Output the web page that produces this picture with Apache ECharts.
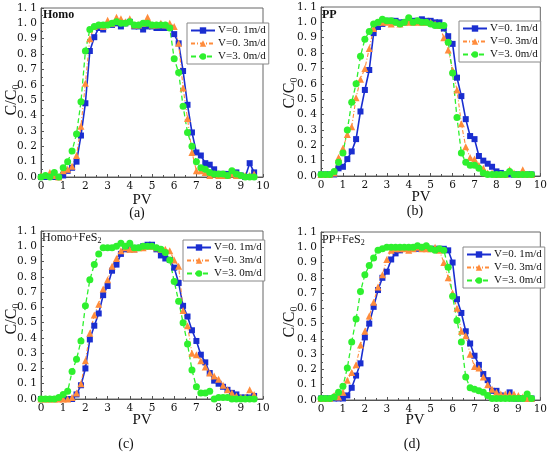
<!DOCTYPE html>
<html>
<head>
<meta charset="utf-8">
<script src="https://cdn.jsdelivr.net/npm/echarts@6/dist/echarts.min.js"></script>
<style>
  html, body { margin: 0; padding: 0; background: #fff; }
  #main { width: 550px; height: 452px; }
</style>
</head>
<body>
<div id="main"></div>
<script type="text/javascript">
var pv = [0,0.2,0.4,0.6,0.8,1,1.2,1.4,1.6,1.8,2,2.2,2.4,2.6,2.8,3,3.2,3.4,3.6,3.8,4,4.2,4.4,4.6,4.8,
          5,5.2,5.4,5.6,5.8,6,6.2,6.4,6.6,6.8,7,7.2,7.4,7.6,7.8,8,8.2,8.4,8.6,8.8,9,9.2,9.4,9.6];

var names = ['V=0. 1m/d', 'V=0. 3m/d', 'V=3. 0m/d'];
var panelTitles = ['Homo', 'PP', 'Homo+FeS', 'PP+FeS'];
var captions = ['(a)', '(b)', '(c)', '(d)'];

// (a) Homo
var homo01 = [0,0,0,0,0, 0.01,0.04,0.06,0.10,0.27, 0.48,0.82,0.91,0.97,0.96, 0.99,0.99,1.00,0.98,1.00,
              1.01,0.98,0.98,0.96,0.98, 0.98,0.97,0.97,0.97,0.97, 0.93,0.87,0.69,0.47,0.29,
              0.16,0.14,0.09,0.08,0.05, 0.02,0.02,0.02,0.02,0.03, 0.01,0.00,0.09,0.03];
var homo03 = [0.01,0.01,0.03,0.01,0.00, 0.04,0.05,0.07,0.14,0.33, 0.61,0.90,0.98,0.99,0.98, 1.02,1.00,1.04,1.03,1.01,
              1.03,0.99,0.99,1.00,1.04, 0.99,0.99,1.00,0.99,1.00, 0.98,0.87,0.58,0.38,0.16,
              0.04,0.04,0.03,0.01,0.02, 0.01,0.01,0.01,0.02,0.01, 0.01,0.01,0.01,0.02];
var homo30 = [0.00,0.01,0.00,0.03,0.00, 0.06,0.10,0.17,0.28,0.49, 0.82,0.96,0.98,0.99,0.99, 0.99,1.00,1.01,1.00,1.00,
              1.01,0.99,0.99,1.00,1.00, 0.99,0.99,0.99,0.99,0.97, 0.77,0.68,0.46,0.29,0.20,
              0.10,0.06,0.05,0.03,0.02, 0.02,0.02,0.01,0.04,0.02, 0.01,0.00,0.00,0.00];

// (b) PP
var pp01 = [0.01,0.01,0.01,0.01,0.05, 0.06,0.11,0.16,0.24,0.42, 0.56,0.69,0.93,0.97,0.99, 1.01,1.01,1.01,1.00,1.00,
            1.01,1.01,1.01,1.02,1.01, 1.01,1.00,1.00,0.96,0.91, 0.86,0.64,0.52,0.37,0.26,
            0.24,0.13,0.10,0.08,0.06, 0.03,0.02,0.01,0.01,0.01, 0.01,0.01,0.01,0.01];
var pp03 = [0.01,0.01,0.01,0.02,0.12, 0.18,0.27,0.32,0.51,0.63, 0.70,0.83,0.96,1.00,1.00, 1.00,0.99,1.00,0.99,1.00,
            1.00,1.00,1.00,1.00,1.00, 1.00,0.99,0.98,0.90,0.82, 0.69,0.56,0.34,0.19,0.12,
            0.11,0.07,0.05,0.02,0.02, 0.01,0.01,0.01,0.04,0.02, 0.01,0.04,0.01,0.01];
var pp30 = [0.01,0.01,0.01,0.03,0.09, 0.15,0.30,0.48,0.60,0.78, 0.89,0.94,0.99,1.00,1.02, 1.01,1.01,1.00,0.99,1.00,
            1.03,1.00,1.01,1.00,1.00, 0.99,0.98,0.98,0.98,0.87, 0.67,0.38,0.15,0.09,0.07,
            0.07,0.05,0.02,0.01,0.01, 0.01,0.01,0.01,0.03,0.01, 0.01,0.01,0.01,0.01];

// (c) Homo+FeS2
var homoFe01 = [0,0,0,0,0, 0,0,0,0.03,0.09, 0.20,0.39,0.48,0.56,0.68, 0.74,0.84,0.88,0.95,0.98,
                0.98,0.98,0.99,1.00,1.01, 1.01,0.98,0.94,0.92,0.91, 0.86,0.76,0.61,0.54,0.45,
                0.38,0.29,0.24,0.17,0.12, 0.10,0.08,0.06,0.04,0.03, 0.01,0.01,0.01,0.02];
var homoFe03 = [0,0,0,0,0, 0,0,0.01,0.04,0.10, 0.25,0.43,0.55,0.62,0.72, 0.78,0.87,0.92,0.97,0.99,
                0.98,0.98,0.99,0.99,1.00, 1.00,0.99,0.98,0.98,0.97, 0.91,0.87,0.58,0.48,0.30,
                0.29,0.25,0.21,0.17,0.15, 0.13,0.09,0.06,0.04,0.02, 0.01,0.01,0.06,0.03];
var homoFe30 = [0,0,0,0,0.01, 0.03,0.05,0.18,0.26,0.38, 0.61,0.78,0.88,0.95,0.99, 0.99,0.99,1.00,1.02,1.00,
                1.02,0.99,0.99,1.00,1.00, 1.00,0.99,0.98,0.96,0.91, 0.77,0.64,0.50,0.36,0.19,
                0.08,0.04,0.04,0.05,0.00, 0.01,0.01,0.01,0.00,0.00, 0.00,0.00,0.00,0.00];

// (d) PP+FeS2
var ppFe01 = [0.01,0.01,0.01,0.01,0.01, 0.01,0.03,0.08,0.16,0.24, 0.41,0.50,0.61,0.72,0.80, 0.84,0.92,0.96,0.98,0.99,
              0.99,0.99,0.99,0.99,0.99, 0.99,0.99,0.99,0.99,0.98, 0.90,0.66,0.57,0.45,0.37,
              0.29,0.23,0.17,0.13,0.06, 0.06,0.03,0.02,0.05,0.01, 0.01,0.01,0.01,0.01];
var ppFe03 = [0.01,0.01,0.01,0.03,0.02, 0.05,0.13,0.18,0.23,0.36, 0.45,0.55,0.64,0.74,0.82, 0.92,0.98,0.99,0.99,0.99,
              0.98,0.99,1.00,0.99,0.99, 0.99,1.00,0.98,0.90,0.80, 0.70,0.60,0.45,0.42,0.30,
              0.22,0.21,0.15,0.10,0.07, 0.05,0.04,0.04,0.04,0.04, 0.03,0.02,0.01,0.01];
var ppFe30 = [0.01,0.01,0.01,0.02,0.05, 0.09,0.21,0.38,0.53,0.71, 0.82,0.88,0.93,0.98,0.99, 1.00,1.00,1.00,1.00,1.00,
              1.00,1.00,1.01,1.00,1.01, 0.99,0.98,0.99,0.98,0.87, 0.68,0.52,0.38,0.15,0.08,
              0.07,0.06,0.05,0.03,0.01, 0.01,0.01,0.01,0.01,0.01, 0.01,0.01,0.04,0.01];

var panelData = [
    [homo01, homo03, homo30],
    [pp01, pp03, pp30],
    [homoFe01, homoFe03, homoFe30],
    [ppFe01, ppFe03, ppFe30]
];

var serif = '"Liberation Serif", "DejaVu Serif", serif';
var wideSerif = '"DejaVu Serif", serif';
var colors = ['#1a2ed0', '#ff8c3c', '#2ef02e'];
var symbols = ['rect', 'triangle', 'circle'];
var symbolSizes = [6, 7, 7];
var lineStyles = [
    {width: 1.6, type: 'solid'},
    {width: 1.1, type: [4, 2, 1, 2]},
    {width: 1.3, type: [5, 3]}
];

// plot boxes in px
var boxes = [
    {left: 41, top: 8,   width: 222, height: 169},
    {left: 321, top: 7,  width: 223, height: 169},
    {left: 41, top: 231, width: 222, height: 168},
    {left: 321, top: 232, width: 223, height: 168}
];
var legendPos = [
    {left: 187, top: 23},
    {left: 459, top: 21},
    {left: 183, top: 240},
    {left: 463, top: 247}
];
var titlePos = [[43, 15], [322, 15], [42, 238], [322, 240]];
var titleBold = [true, true, false, false];
var yNamePos = [[12, 100], [290, 93], [12, 319], [290, 322]];
var xNamePos = [[142, 200], [421, 197], [142, 420], [415, 420]];
var capPos = [[137, 213], [415, 211], [126, 444], [412, 444]];

var grids = [], xAxes = [], yAxes = [], series = [], legends = [], graphics = [];

function yFmt(v) {
    return v.toFixed(1).replace('.', '. ');
}

for (var p = 0; p < 4; p++) {
    grids.push({
        left: boxes[p].left, top: boxes[p].top, width: boxes[p].width, height: boxes[p].height,
        show: true, borderColor: '#666', borderWidth: 1, backgroundColor: '#fff'
    });
    xAxes.push({
        type: 'value', gridIndex: p, min: 0, max: 10, interval: 1,
        axisLine: {show: true, onZero: false, lineStyle: {color: '#555', width: 1}},
        axisTick: {show: true, inside: true, length: 3, lineStyle: {color: '#555'}},
        minorTick: {show: true, splitNumber: 2, length: 2, lineStyle: {color: '#555'}},
        splitLine: {show: false},
        axisLabel: {color: '#111', fontSize: 10.5, fontFamily: wideSerif, margin: 4}
    });
    yAxes.push({
        type: 'value', gridIndex: p, min: 0, max: 1.1, interval: 0.1,
        axisLine: {show: true, lineStyle: {color: '#555', width: 1}},
        axisTick: {show: true, inside: true, length: 3, lineStyle: {color: '#555'}},
        minorTick: {show: true, splitNumber: 2, length: 2, lineStyle: {color: '#555'}},
        splitLine: {show: false},
        axisLabel: {color: '#111', fontSize: 10.5, fontFamily: wideSerif, margin: 4, formatter: yFmt}
    });
    for (var s = 0; s < 3; s++) {
        var vals = panelData[p][s];
        var pts = [];
        for (var i = 0; i < vals.length; i++) pts.push([pv[i], vals[i]]);
        series.push({
            name: names[s], type: 'line', xAxisIndex: p, yAxisIndex: p,
            data: pts, symbol: symbols[s], symbolSize: symbolSizes[s],
            itemStyle: {color: colors[s]},
            lineStyle: {color: colors[s], width: lineStyles[s].width, type: lineStyles[s].type},
            clip: false
        });
    }
    legends.push({
        data: names, orient: 'vertical',
        left: legendPos[p].left, top: legendPos[p].top,
        itemWidth: 24, itemHeight: 8, itemGap: 2,
        padding: [2, 3, 2, 3],
        backgroundColor: '#fff', borderColor: '#888', borderWidth: 1, borderRadius: 0,
        selectedMode: false,
        textStyle: {color: '#111', fontSize: 11, fontFamily: serif, padding: [0, 0, 0, -2]}
    });

    var tText = p < 2 ? '{n|' + panelTitles[p] + '}' : '{n|' + panelTitles[p] + '}{s|2}';
    graphics.push({
        type: 'text', x: titlePos[p][0], y: titlePos[p][1], z: 100,
        style: {
            text: tText, textVerticalAlign: 'middle',
            rich: {
                n: {fontSize: 12, fontFamily: serif, fontWeight: titleBold[p] ? 'bold' : 'normal', fill: '#111', lineHeight: 14},
                s: {fontSize: 8, fontFamily: serif, fill: '#111', lineHeight: 8, verticalAlign: 'bottom'}
            }
        }
    });
    graphics.push({
        type: 'text', x: yNamePos[p][0], y: yNamePos[p][1], rotation: Math.PI / 2,
        style: {
            text: '{n|C/C}{s|0}', textAlign: 'center', textVerticalAlign: 'middle',
            rich: {
                n: {fontSize: 16, fontFamily: serif, fill: '#111', lineHeight: 18},
                s: {fontSize: 10, fontFamily: serif, fill: '#111', lineHeight: 10, verticalAlign: 'bottom'}
            }
        }
    });
    graphics.push({
        type: 'text', x: xNamePos[p][0], y: xNamePos[p][1],
        style: {text: 'PV', textAlign: 'center', textVerticalAlign: 'middle', font: '15px ' + serif, fill: '#111'}
    });
    graphics.push({
        type: 'text', x: capPos[p][0], y: capPos[p][1],
        style: {text: captions[p], textAlign: 'center', textVerticalAlign: 'middle', font: '14px ' + serif, fill: '#111'}
    });
}

var chart = echarts.init(document.getElementById('main'));
chart.setOption({
    animation: false,
    backgroundColor: '#fff',
    grid: grids,
    xAxis: xAxes,
    yAxis: yAxes,
    legend: legends,
    series: series,
    graphic: graphics
});
</script>
</body>
</html>
